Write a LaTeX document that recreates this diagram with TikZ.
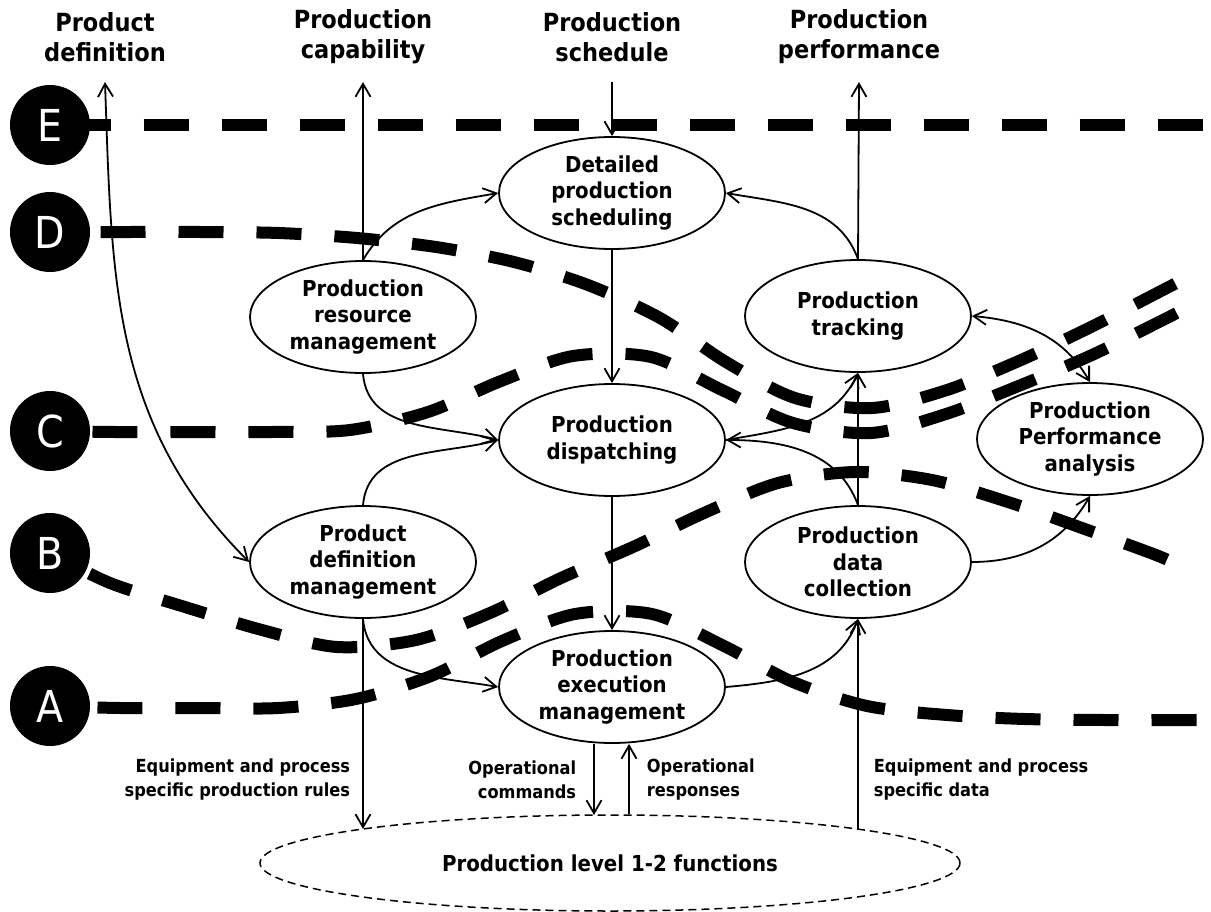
\documentclass[tikz,border=0pt]{standalone}
\usepackage{fontspec}
\setmainfont{DejaVu Sans}[FakeStretch=0.9]
\usetikzlibrary{
    arrows.meta,
    positioning,
    shapes.geometric,
    backgrounds
}

\begin{document}
\begin{tikzpicture}[
    x=1pt, y=1pt,
    func/.style={ellipse, draw, line width=1.8pt, minimum width=226pt,
                 minimum height=112pt, inner sep=0pt, align=center,
                 font=\fontsize{22}{26.5}\selectfont\bfseries},
    level/.style={circle, fill=black, text=white, minimum size=80pt,
                  inner sep=0pt, font=\fontsize{44}{44}\selectfont},
    info/.style={align=center, font=\fontsize{25}{30}\selectfont\bfseries},
    note/.style={inner sep=1pt, font=\fontsize{18}{24}\selectfont\bfseries},
    bound/.style={line width=12pt, dash pattern=on 45pt off 33pt},
    line width=1.8pt, >={Straight Barb[length=13pt,width=15pt]}
]
\useasboundingbox (0,0) rectangle (1211,-911);

% --- LEVEL MARKERS ---
\node[level] (cE) at (50,-125) {E};
\node[level] (cD) at (50,-232) {D};
\node[level] (cC) at (50,-431) {C};
\node[level] (cB) at (50,-553) {B};
\node[level] (cA) at (50,-706) {A};

% --- EXCHANGED INFORMATION (TOP) ---
\node[info] (tdef)  at (105,-37) {Product\\definition};
\node[info] (tcap)  at (363,-37) {Production\\capability};
\node[info] (tsch)  at (612,-37) {Production\\schedule};
\node[info] (tperf) at (859,-37) {Production\\performance};
\coordinate (defup)   at (105,-82);
\coordinate (capup)   at (363,-82);
\coordinate (schdown) at (612,-82);
\coordinate (perfup)  at (859,-82);

% --- FUNCTIONS ---
\node[func] (dps) at (612,-193)  {Detailed\\production\\scheduling};
\node[func] (prm) at (363,-317)  {Production\\resource\\management};
\node[func] (pt)  at (858,-316)  {Production\\tracking};
\node[func] (pd)  at (612,-440)  {Production\\dispatching};
\node[func] (ppa) at (1090,-439) {Production\\Performance\\analysis};
\node[func] (pdm) at (363,-562)  {Product\\definition\\management};
\node[func] (pdc) at (858,-562)  {Production\\data\\collection};
\node[func] (pem) at (612,-687)  {Production\\execution\\management};

% --- LEVEL 1-2 ---
\node[func, line width=1.5pt, dash pattern=on 8pt off 5pt, minimum width=700pt,
      minimum height=96pt] (lvl) at (610,-863) {Production level 1-2 functions};
\coordinate (rulesin) at (363,-829);
\coordinate (cmdin)   at (594,-815);
\coordinate (rspout)  at (629,-814);
\coordinate (dataout) at (858,-829);

% --- CONNECTIONS ---
\draw[<->] (defup) to[out=-88, in=135] (pdm.west);
\draw[->] (prm.north) -- (capup);
\draw[->] (schdown) -- (dps.north);
\draw[->] (pt.north) -- (perfup);
\draw[->] (prm.north) to[out=60, in=190] (dps.west);
\draw[->] (pt.north) to[out=110, in=-10] (dps.east);
\draw[->] (dps.south) -- (pd.north);
\draw[->] (prm.south) to[out=-85, in=165] (pd.west);
\draw[->] (pdm.north) to[out=85, in=195] (pd.west);
\draw[->] (pd.south) -- (pem.north);
\draw[->] (pdm.south) to[out=-85, in=170] (pem.west);
\draw[->] (pem.east) to[out=5, in=-110] (pdc.south);
\draw[->] (pdc.north) -- (pt.south);
\draw[->] (pdc.north) to[out=110, in=0] (pd.east);
\draw[->] (pd.east) to[out=10, in=-115] (pt.south);
\draw[<->] (pt.east) to[out=-5, in=120] (ppa.north);
\draw[->] (pdc.east) to[out=0, in=-120] (ppa.south);

% --- TO / FROM LEVEL 1-2 ---
\draw[->] (pdm.south) -- (rulesin);
\draw[->] (pem.south -| cmdin) -- (cmdin);
\draw[->] (rspout) -- (pem.south -| rspout);
\draw[->] (dataout) -- (pdc.south);
\node[note, anchor=east, align=right] (rules) at (352,-780) {Equipment and process\\specific production rules};
\node[note, anchor=east, align=right] (cmd) at (578,-780) {Operational\\commands};
\node[note, anchor=west, align=left] (rsp) at (645,-780) {Operational\\responses};
\node[note, anchor=west, align=left] (data) at (872,-780) {Equipment and process\\specific data};

% --- BOUNDARY LINES ---
\begin{pgfonlayer}{background}
\draw[bound, dash phase=62.5pt] (cE.center) -- (1215,-125);
\draw[bound, dash phase=27.5pt] plot[smooth] coordinates {(cD.center) (123,-232)
    (201,-232) (279,-233) (357,-238) (436,-247) (514,-262) (588,-285) (660,-318)
    (726,-362) (795,-398) (872,-408) (947,-390) (1021,-360) (1091,-327)
    (1161,-291) (1190,-276)};
\draw[bound, dash phase=35.5pt] plot[smooth] coordinates {(cC.center) (115,-432)
    (193,-432) (271,-432) (350,-430) (428,-412) (501,-381) (573,-356) (651,-357)
    (722,-390) (793,-423) (871,-433) (946,-414) (1021,-385) (1092,-355)
    (1163,-320) (1190,-306)};
\draw[bound, dash phase=33.5pt] plot[smooth] coordinates {(cB.center) (110,-583)
    (185,-607) (262,-630) (337,-647) (416,-640) (490,-613) (561,-578) (633,-547)
    (704,-513) (778,-483) (855,-472) (932,-480) (1008,-502) (1082,-528)
    (1156,-555) (1180,-566)};
\draw[bound, dash phase=30.5pt] plot[smooth] coordinates {(cA.center) (120,-708)
    (198,-708) (278,-708) (356,-699) (431,-676) (502,-641) (575,-614) (652,-614)
    (724,-646) (793,-682) (867,-706) (947,-715) (1025,-719) (1105,-720)
    (1183,-720) (1215,-720)};
\end{pgfonlayer}
\end{tikzpicture}
\end{document}
